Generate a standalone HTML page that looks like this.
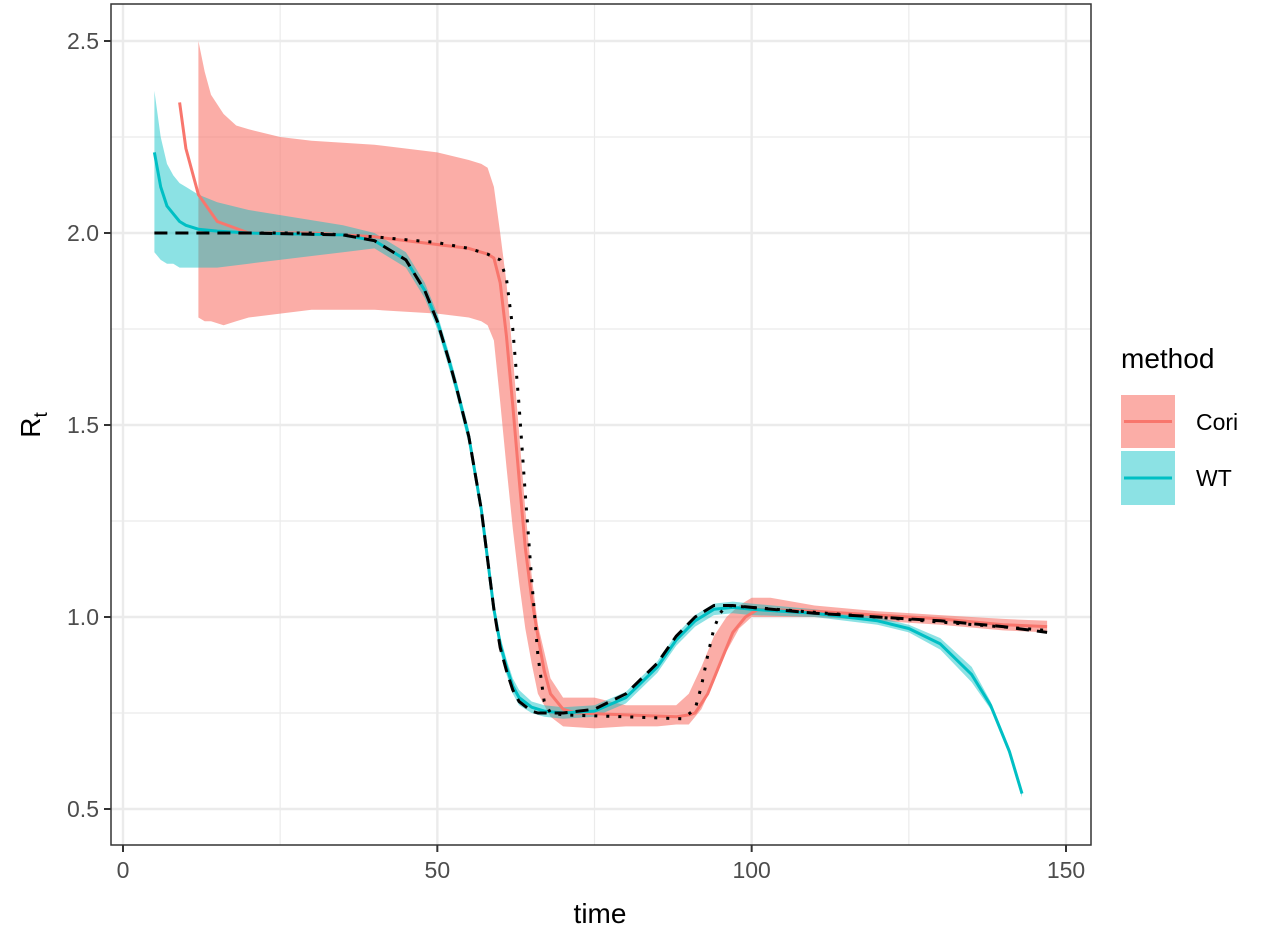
<!DOCTYPE html>
<html><head><meta charset="utf-8"><style>
body{margin:0;background:#fff;}
svg{display:block;font-family:"Liberation Sans",Arial,sans-serif;}
</style></head><body>
<svg id="chart" width="1280" height="931">
<g id="grid"></g>
<g id="bands"></g>
<g id="lines"></g>
<rect x="111" y="4" width="980" height="841" fill="none" stroke="#333" stroke-width="1.5"/>
<g id="axes"></g>
<text x="600" y="923" font-size="28" text-anchor="middle" fill="#000">time</text>
<text transform="translate(40,425) rotate(-90)" font-size="28" text-anchor="middle" fill="#000">R<tspan font-size="19" dy="7">t</tspan></text>
<g>
<text x="1121" y="368" font-size="28" fill="#000">method</text>
<g>
<rect x="1121" y="395" width="54" height="53" fill="#F8766D" fill-opacity="0.6"/>
<line x1="1124" y1="421.5" x2="1172" y2="421.5" stroke="#F8766D" stroke-width="3"/>
<text x="1196" y="430" font-size="23" fill="#000">Cori</text></g>
<g>
<rect x="1121" y="451" width="54" height="54" fill="#00BFC4" fill-opacity="0.45"/>
<line x1="1124" y1="478" x2="1172" y2="478" stroke="#00BFC4" stroke-width="3"/>
<text x="1196" y="486" font-size="23" fill="#000">WT</text></g>
</g>
</svg>
<script>
const xTicks=[0,50,100,150];
const xMinor=[25,75,125];
const yTicks=[0.5,1.0,1.5,2.0,2.5];
const yTickLabels=["0.5","1.0","1.5","2.0","2.5"];
const yMinor=[0.75,1.25,1.75,2.25];
const truthT=[5,20,35,40,45,48,50,52,53,55,57,58,59,60,61,62,63,65,66,70,75,80,85,88,91,94,97,100,110,120,130,140,147];
const truthV=[2.0,2.0,1.995,1.98,1.93,1.85,1.77,1.66,1.6,1.47,1.28,1.15,1.02,0.92,0.86,0.81,0.78,0.755,0.75,0.75,0.76,0.8,0.88,0.95,1.0,1.03,1.03,1.025,1.01,1.0,0.99,0.975,0.96];
const dotT=[20,30,40,50,55,58,60,61,62,63,64,65,66,67,68,70,80,89,91,92,93,94,95,96,100,147];
const dotV=[2.0,2.0,1.99,1.975,1.96,1.945,1.93,1.88,1.75,1.55,1.32,1.1,0.9,0.78,0.75,0.745,0.74,0.735,0.76,0.82,0.9,0.97,1.01,1.03,1.025,0.965];
const wtT=[5,6,7,8,9,10,12,15,20,35,40,45,48,50,52,53,55,57,58,59,60,61,62,63,65,67,70,75,80,85,88,91,94,97,100,110,120,125,130,135,138,141,143];
const wtV=[2.21,2.12,2.07,2.05,2.03,2.02,2.01,2.005,2.0,1.995,1.98,1.93,1.85,1.77,1.66,1.6,1.47,1.28,1.15,1.02,0.93,0.87,0.82,0.79,0.765,0.755,0.75,0.755,0.79,0.87,0.94,0.99,1.02,1.025,1.02,1.01,0.99,0.97,0.93,0.85,0.77,0.65,0.54];
const wtUpper=[2.37,2.25,2.18,2.15,2.13,2.12,2.1,2.08,2.06,2.02,2.0,1.95,1.87,1.79,1.68,1.62,1.49,1.3,1.17,1.04,0.95,0.89,0.84,0.81,0.78,0.77,0.765,0.77,0.805,0.885,0.955,1.005,1.035,1.04,1.035,1.02,1.0,0.98,0.945,0.87,0.78,0.66,0.55];
const wtLower=[1.95,1.93,1.92,1.92,1.91,1.91,1.91,1.91,1.92,1.95,1.96,1.91,1.83,1.75,1.64,1.58,1.45,1.26,1.13,1.0,0.91,0.85,0.8,0.77,0.75,0.74,0.735,0.74,0.775,0.855,0.925,0.975,1.005,1.01,1.005,1.0,0.98,0.96,0.915,0.83,0.76,0.64,0.53];
const coriT=[9,10,12,15,20,30,40,50,55,58,59,60,61,62,63,64,65,66,67,68,70,72,80,88,90,91,93,95,97,99,101,110,120,130,140,147];
const coriV=[2.34,2.22,2.1,2.03,2.0,2.0,1.99,1.97,1.96,1.945,1.935,1.87,1.73,1.55,1.36,1.18,1.05,0.95,0.86,0.8,0.76,0.75,0.745,0.74,0.745,0.75,0.8,0.88,0.96,1.0,1.02,1.015,1.005,0.995,0.98,0.975];
const bandT=[12,13,14,16,18,20,25,30,40,50,55,57,58,59,60,61,62,63,64,65,66,68,70,75,80,85,88,90,92,94,96,98,100,103,110,120,130,140,147];
const bandUpper=[2.5,2.42,2.36,2.31,2.28,2.27,2.25,2.24,2.23,2.21,2.19,2.18,2.17,2.12,2.0,1.87,1.68,1.48,1.28,1.11,0.98,0.84,0.79,0.79,0.77,0.77,0.77,0.8,0.87,0.95,1.0,1.03,1.05,1.05,1.03,1.015,1.005,0.995,0.99];
const bandLower=[1.78,1.77,1.77,1.76,1.77,1.78,1.79,1.8,1.8,1.79,1.78,1.77,1.76,1.72,1.56,1.39,1.23,1.09,0.97,0.88,0.8,0.74,0.715,0.71,0.715,0.715,0.72,0.72,0.76,0.83,0.91,0.97,1.0,1.0,1.0,0.99,0.98,0.965,0.96];

const NS="http://www.w3.org/2000/svg";
function sx(t){return 123+t*(1066-123)/150;}
function sy(v){return 617-(v-1)*384;}
function mk(tag,attrs,parent){const e=document.createElementNS(NS,tag);for(const k in attrs)e.setAttribute(k,attrs[k]);parent.appendChild(e);return e;}
const grid=document.getElementById('grid'),axes=document.getElementById('axes'),bands=document.getElementById('bands'),lines=document.getElementById('lines');
for(const t of xMinor){const l=mk('line',{x1:sx(t),x2:sx(t),y1:4,y2:845,stroke:'#ebebeb','stroke-width':1.2},grid);

}
for(const v of yMinor){const l=mk('line',{x1:111,x2:1091,y1:sy(v),y2:sy(v),stroke:'#ebebeb','stroke-width':1.2},grid);

}
for(const t of xTicks){const l=mk('line',{x1:sx(t),x2:sx(t),y1:4,y2:845,stroke:'#ebebeb','stroke-width':2.4},grid);


const tk=mk('line',{x1:sx(t),x2:sx(t),y1:845,y2:852,stroke:'#333','stroke-width':2},axes);


const tx=mk('text',{x:sx(t),y:878,'font-size':23,'text-anchor':'middle',fill:'#4d4d4d'},axes);tx.textContent=String(t);

}
yTicks.forEach((v,i)=>{const l=mk('line',{x1:111,x2:1091,y1:sy(v),y2:sy(v),stroke:'#ebebeb','stroke-width':2.4},grid);


const tk=mk('line',{x1:104,x2:111,y1:sy(v),y2:sy(v),stroke:'#333','stroke-width':2},axes);


const tx=mk('text',{x:99,y:sy(v)+8,'font-size':23,'text-anchor':'end',fill:'#4d4d4d'},axes);tx.textContent=yTickLabels[i];

});
function pts(T,V){return T.map((t,i)=>sx(t).toFixed(1)+','+sy(V[i]).toFixed(1));}
function band(T,U,L,color,op,name){const p=pts(T,U).concat(pts(T,L).reverse());
const e=mk('polygon',{points:p.join(' '),fill:color,'fill-opacity':op,stroke:'none'},bands);

}
band(bandT,bandUpper,bandLower,'#F8766D',0.6,'cori-ci-band');
band(wtT,wtUpper,wtLower,'#00BFC4',0.45,'wt-ci-band');
function line(T,V,attrs,name){const a=Object.assign({points:pts(T,V).join(' '),fill:'none','stroke-linejoin':'round'},attrs);
const e=mk('polyline',a,lines);

}
line(coriT,coriV,{stroke:'#F8766D','stroke-width':3},'cori-line');
line(wtT,wtV,{stroke:'#00BFC4','stroke-width':3},'wt-line');
line(dotT,dotV,{stroke:'#000','stroke-width':3,'stroke-dasharray':'3 9'},'reference-dotted-line');
line(truthT,truthV,{stroke:'#000','stroke-width':3,'stroke-dasharray':'13 8'},'true-rt-dashed-line');
</script>
</body></html>
